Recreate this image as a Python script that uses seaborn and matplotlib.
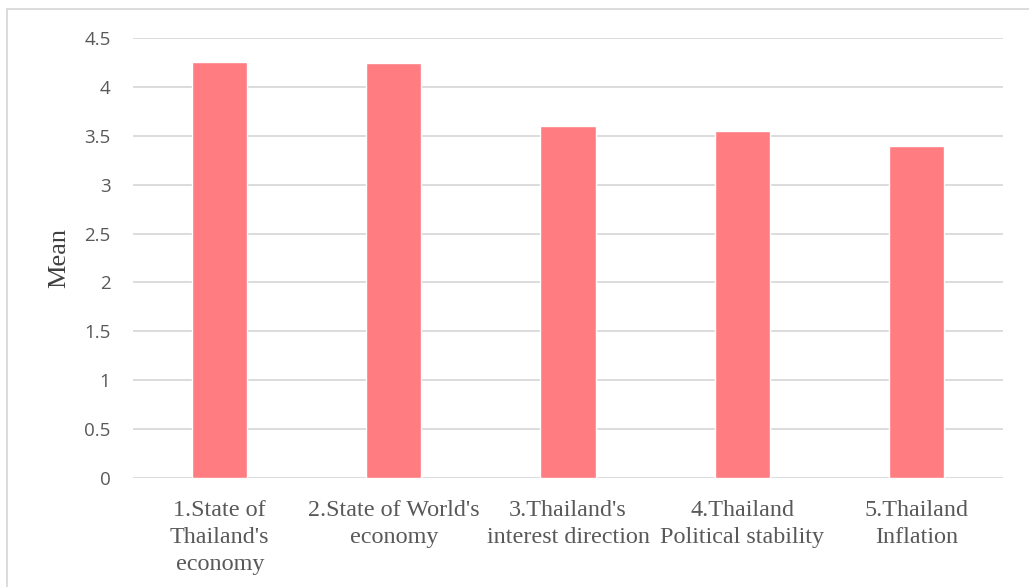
import matplotlib
matplotlib.use("Agg")
import matplotlib.pyplot as plt
import seaborn as sns
import pandas as pd
from matplotlib.lines import Line2D

categories = ["1.State of\nThailand's\neconomy", "2.State of World's\neconomy",
              "3.Thailand's\ninterest direction", "4.Thailand\nPolitical stability",
              "5.Thailand\nInflation"]
means = [4.25, 4.24, 3.60, 3.55, 3.40]
yticks = [0, 0.5, 1, 1.5, 2, 2.5, 3, 3.5, 4, 4.5]
ytick_labels = ["0", "0.5", "1", "1.5", "2", "2.5", "3", "3.5", "4", "4.5"]

df = pd.DataFrame({"cat": categories, "mean": means})

sns.set_style("white")
fig = plt.figure(figsize=(10.29, 5.87), dpi=100)
ax = fig.add_axes([0.129, 0.1857, 0.846, 0.7496])

sns.barplot(data=df, x="cat", y="mean", color="#FF7C80", width=0.316, ax=ax,
            saturation=1, zorder=3)

ax.set_ylim(0, 4.5)
ax.set_xlim(-0.5, 4.5)
ax.set_yticks(yticks)
ax.set_yticklabels(ytick_labels, fontfamily="Open Sans", fontsize=13.5, color="#595959")
ax.set_xticks(range(len(categories)))
ax.set_xticklabels(categories, fontfamily="Liberation Serif", fontsize=17.4,
                   color="#595959", linespacing=1.37)
ax.tick_params(axis="both", length=0)
ax.tick_params(axis="y", pad=16)
ax.tick_params(axis="x", pad=16)
ax.set_xlabel("")
ax.set_ylabel("Mean", fontfamily="Liberation Serif", fontsize=19, color="#404040",
              labelpad=10)
ax.yaxis.grid(True, color="#D9D9D9", linewidth=1.3, zorder=0)
ax.set_axisbelow(True)
for s in ax.spines.values():
    s.set_visible(False)

# outer chart border (top and left visible)
fig.add_artist(Line2D([7/1029, 1.0], [1 - 8.5/587, 1 - 8.5/587], color="#D9D9D9", linewidth=1.3))
fig.add_artist(Line2D([7/1029, 7/1029], [0, 1 - 8.5/587], color="#D9D9D9", linewidth=1.3))

fig.savefig("out.png", dpi=100)
